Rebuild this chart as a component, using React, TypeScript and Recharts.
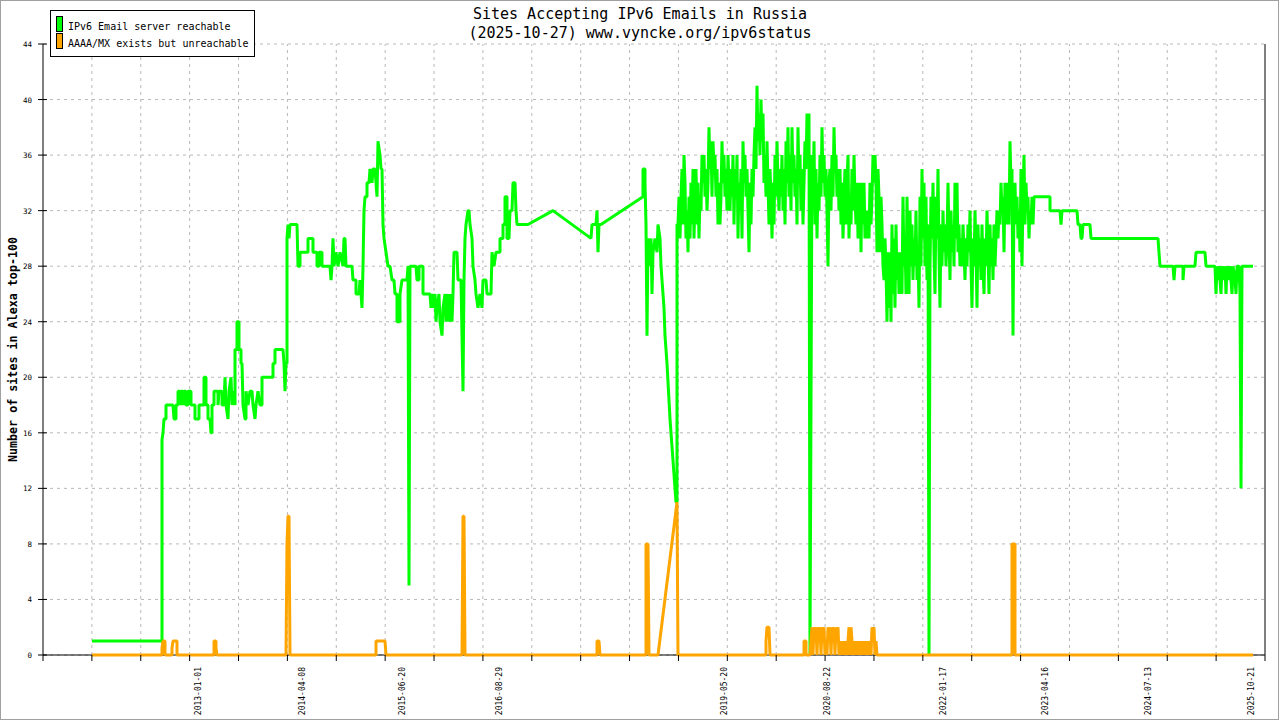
import React from "react";
import { LineChart, Line, XAxis, YAxis, CartesianGrid, ReferenceLine } from "recharts";

// sample index on x (0..1222), number of sites on y
const reachable: [number, number][] = [
  [49, 1], [119, 1], [119, 15.5], [120, 16], [121, 17], [123, 17], [123, 18], [130, 18], [131, 17], [133, 17],
  [133, 18], [135, 18], [135, 19], [137, 19], [137, 18], [138, 19], [140, 19], [140, 18], [141, 19], [143, 19],
  [143, 18], [145, 18], [145, 19], [148, 19], [148, 18], [152, 18], [152, 17], [156, 17], [156, 18], [161, 18],
  [161, 20], [163, 20], [163, 18], [165, 18], [165, 17], [167, 17], [168, 16], [169, 16], [169, 18], [171, 18],
  [171, 19], [175, 19], [175, 18], [176, 19], [179, 19], [179, 18], [181, 18], [182, 20], [183, 18], [185, 17],
  [186, 19], [188, 20], [189, 18], [190, 19], [192, 18], [192, 22], [194, 22], [194, 24], [196, 24], [196, 22],
  [198, 22], [198, 21], [199, 21], [200, 18], [202, 17], [203, 17], [203, 19], [205, 18], [207, 19], [209, 19],
  [210, 18], [212, 17], [213, 18], [215, 19], [217, 18], [219, 18], [219, 20], [230, 20], [230, 21], [232, 21],
  [232, 22], [240, 22], [241, 21], [242, 19], [243, 21], [244, 21], [244, 30], [245, 31], [246, 30], [247, 31],
  [254, 31], [255, 28], [257, 28], [257, 29], [265, 29], [265, 30], [270, 30], [270, 29], [274, 29], [274, 28],
  [276, 28], [276, 29], [279, 29], [279, 28], [287, 28], [288, 27], [289, 28], [290, 30], [291, 28], [293, 29],
  [295, 28], [297, 29], [300, 28], [301, 30], [302, 30], [303, 28], [309, 28], [310, 27], [313, 27], [313, 26],
  [316, 26], [317, 27], [319, 25], [320, 28], [321, 32], [322, 33], [324, 33], [324, 34], [326, 34], [327, 35],
  [329, 34], [330, 35], [332, 35], [333, 34], [334, 33], [335, 37], [337, 36], [338, 35], [339, 35], [340, 31],
  [341, 30], [343, 29], [345, 28], [347, 28], [349, 27], [351, 27], [352, 26], [354, 26], [354, 24], [357, 24],
  [357, 26], [359, 27], [364, 27], [365, 28], [366, 5], [367, 28], [373, 28], [374, 27], [376, 27], [376, 28],
  [380, 28], [380, 26], [387, 26], [388, 25], [389, 26], [391, 25], [392, 26], [393, 24], [394, 25], [396, 26],
  [397, 24], [399, 23], [400, 25], [402, 26], [403, 24], [404, 26], [406, 24], [407, 26], [409, 24], [410, 26],
  [411, 29], [414, 29], [415, 27], [418, 27], [420, 19], [421, 27], [422, 30], [423, 31], [425, 32], [426, 32],
  [427, 31], [429, 30], [430, 28], [432, 27], [433, 26], [435, 25], [437, 26], [439, 25], [440, 27], [443, 27],
  [444, 26], [448, 26], [449, 29], [451, 28], [453, 29], [457, 29], [457, 30], [460, 30], [460, 31], [462, 31],
  [462, 33], [464, 33], [464, 30], [466, 30], [467, 32], [469, 32], [470, 34], [472, 34], [473, 32], [474, 31],
  [485, 31], [510, 32], [548, 30], [549, 31], [553, 31], [554, 32], [555, 29], [556, 31], [558, 31], [600, 33],
  [600, 35], [602, 35], [602, 34], [603, 31], [604, 23], [605, 30], [607, 28], [608, 30], [609, 26], [610, 29],
  [612, 30], [614, 29], [615, 31], [617, 30], [618, 28], [619, 27], [621, 25], [622, 23], [624, 21], [627, 17],
  [630, 14], [633, 11], [634, 11], [634, 31],
  [635, 31], [636, 33], [637, 30], [638, 33], [639, 35], [640, 31], [641, 36], [642, 34], [643, 30], [644, 32],
  [645, 29], [646, 33], [647, 30], [648, 34], [649, 31], [650, 35], [651, 30], [652, 33], [653, 35], [654, 31],
  [655, 34], [656, 30], [657, 33], [658, 32], [659, 36], [660, 34], [661, 36], [662, 33], [663, 35], [664, 32],
  [665, 34], [666, 38], [667, 35], [668, 37], [669, 33], [670, 37], [671, 35], [672, 36], [673, 33], [674, 35],
  [675, 31], [676, 34], [677, 31], [678, 33], [679, 37], [680, 34], [681, 36], [682, 33], [683, 35], [684, 32],
  [685, 36], [686, 34], [687, 32], [688, 35], [689, 33], [690, 36], [691, 31], [692, 35], [693, 33], [694, 36],
  [695, 30], [696, 34], [697, 32], [698, 35], [699, 30], [700, 37], [701, 34], [702, 36], [703, 33], [704, 35],
  [705, 32], [706, 29], [707, 34], [708, 31], [709, 35], [710, 33], [711, 36], [712, 38], [713, 35], [714, 41],
  [715, 37], [716, 39], [717, 36], [718, 40], [719, 37], [720, 39], [721, 34], [722, 36], [723, 33], [724, 37],
  [725, 34], [726, 31], [727, 35], [728, 33], [729, 30], [730, 34], [731, 31], [732, 36], [733, 33], [734, 37],
  [735, 34], [736, 32], [737, 35], [738, 33], [739, 36], [740, 32], [741, 35], [742, 31], [743, 37], [744, 34],
  [745, 38], [746, 33], [747, 36], [748, 32], [749, 38], [750, 34], [751, 36], [752, 33], [753, 35], [754, 31],
  [755, 38], [756, 34], [757, 36], [758, 32], [759, 35], [760, 31], [761, 34], [762, 37], [763, 35], [764, 39],
  [765, 36], [766, 39], [767, 0], [768, 18], [769, 36], [770, 33], [771, 37], [772, 31], [773, 35], [774, 30],
  [775, 34], [776, 32], [777, 36], [778, 33], [779, 38], [780, 34], [781, 36], [782, 33], [783, 35], [784, 32],
  [785, 28], [786, 34], [787, 35], [788, 32], [789, 36], [790, 33], [791, 38], [792, 35], [793, 36], [794, 33],
  [795, 35], [796, 32], [797, 35], [798, 31], [799, 34], [800, 30], [801, 33], [802, 35], [803, 31], [804, 34],
  [805, 36], [806, 30], [807, 33], [808, 31], [809, 35], [810, 32], [811, 36], [812, 33], [813, 31], [814, 34],
  [815, 30], [816, 33], [817, 34],
  [818, 29], [819, 34], [820, 31], [821, 34], [822, 30], [823, 32], [824, 30], [825, 32], [826, 30], [827, 34],
  [828, 31], [829, 33], [830, 36], [831, 34], [832, 36], [833, 34], [834, 29], [835, 35], [836, 33], [837, 29],
  [838, 33], [839, 31], [840, 28], [841, 27], [842, 30], [843, 28], [844, 24], [845, 29], [846, 25], [847, 29],
  [848, 24], [849, 31], [850, 26], [851, 30], [852, 25], [853, 31], [854, 27], [855, 29], [856, 26], [857, 29],
  [858, 27], [859, 26], [860, 33], [861, 28], [862, 30], [863, 26], [864, 33], [865, 29], [866, 26], [867, 32],
  [868, 28], [869, 31], [870, 27], [871, 30], [872, 28], [873, 32], [874, 27], [875, 29], [876, 25], [877, 33],
  [878, 28], [879, 35], [880, 30], [881, 34], [882, 28], [883, 33], [884, 27], [885, 31], [886, 0], [887, 28],
  [888, 33], [889, 30], [890, 34], [891, 29], [892, 26], [893, 33], [894, 30], [895, 35], [896, 29], [897, 25],
  [898, 31], [899, 28], [900, 32], [901, 29], [902, 31], [903, 28], [904, 30], [905, 34], [906, 30], [907, 27],
  [908, 32], [909, 29], [910, 31], [911, 28], [912, 34], [913, 30], [914, 34], [915, 29], [916, 31], [917, 28],
  [918, 30], [919, 28], [920, 31], [921, 29], [922, 27], [923, 30], [924, 28], [925, 31], [926, 29], [927, 32],
  [928, 28], [929, 25], [930, 30], [931, 28], [932, 32], [933, 29], [934, 25], [935, 31], [936, 28], [937, 30],
  [938, 27], [939, 31], [940, 28], [941, 26], [942, 30], [943, 28], [944, 32], [945, 29], [946, 26], [947, 31],
  [948, 28], [949, 30], [950, 27], [951, 31], [952, 28], [953, 30], [954, 32], [955, 30], [956, 32], [957, 31],
  [958, 34], [959, 32], [960, 33], [961, 29], [962, 34], [963, 31], [964, 33], [965, 34], [966, 31], [967, 37],
  [968, 34], [969, 35], [970, 23], [971, 33], [972, 34], [973, 31], [974, 33], [975, 30], [976, 32], [977, 29],
  [978, 35], [979, 28], [980, 33], [981, 36], [982, 31], [983, 34], [984, 32], [985, 33], [986, 30], [987, 32],
  [988, 31], [989, 33], [990, 31], [991, 33], [992, 33],
  [1007, 33], [1007, 32], [1017, 32], [1018, 31], [1019, 32], [1034, 32], [1035, 31], [1037, 31], [1038, 30],
  [1039, 30], [1040, 31], [1047, 31], [1048, 30], [1115, 30], [1116, 29], [1117, 28], [1130, 28], [1131, 27],
  [1132, 28], [1140, 28], [1140, 27], [1141, 28], [1152, 28], [1153, 29], [1162, 29], [1163, 28], [1172, 28],
  [1173, 26], [1174, 28], [1175, 27], [1176, 28], [1178, 26], [1179, 28], [1180, 27], [1182, 28], [1183, 26],
  [1184, 28], [1186, 27], [1187, 28], [1189, 26], [1190, 28], [1192, 27], [1193, 26], [1194, 28], [1196, 28],
  [1197, 26], [1198, 12], [1199, 28], [1210, 28],
];

const unreachable: [number, number][] = [
  [49, 0], [119, 0], [119, 0.5], [120, 1], [122, 1], [122, 0], [129, 0], [129, 0.5], [130, 1], [134, 1],
  [134, 0], [171, 0], [171, 1], [173, 1], [173, 0.5], [174, 0], [243, 0], [244, 8], [245, 10], [246, 10],
  [247, 0], [333, 0], [333, 1], [342, 1], [343, 0], [419, 0], [420, 10], [421, 10], [422, 0], [554, 0],
  [554, 1], [556, 1], [557, 0], [603, 0], [603, 8], [605, 8], [606, 0], [615, 0], [634, 11], [635, 0],
  [723, 0], [723, 1], [724, 2], [726, 2], [727, 0], [761, 0], [761, 1], [763, 1], [763, 0], [767, 0],
  [768, 1], [769, 2], [770, 0], [771, 2], [772, 1], [773, 2], [774, 0], [775, 2], [776, 1], [777, 2],
  [778, 0], [779, 2], [780, 1], [781, 2], [782, 0], [783, 1], [784, 0], [785, 2], [786, 1], [787, 2],
  [788, 0], [789, 2], [790, 1], [791, 2], [792, 0], [793, 2], [794, 1], [795, 2], [796, 0], [797, 1],
  [798, 0], [799, 1], [800, 0], [801, 1], [802, 0], [803, 1], [804, 0], [805, 1], [806, 2], [807, 0],
  [808, 2], [809, 1], [810, 0], [811, 1], [812, 0], [813, 1], [814, 0], [815, 1], [816, 0], [817, 1],
  [818, 0], [819, 1], [820, 0], [821, 1], [822, 0], [823, 1], [824, 0], [825, 1], [826, 0], [827, 1],
  [828, 0], [829, 2], [830, 1], [831, 2], [832, 0], [833, 1], [834, 0], [835, 0], [969, 0], [969, 8],
  [972, 8], [972, 0], [1210, 0],
];

const dateLabels = [
  "2013-01-01", "2014-04-08", "2015-06-20", "2016-08-29", "2019-05-20",
  "2020-08-22", "2022-01-17", "2023-04-16", "2024-07-13", "2025-10-21",
];
const datePositions = [155.3, 259, 359, 456.3, 681, 784.3, 899.5, 1001.7, 1104.5, 1207.8];
const yTicks = [0, 4, 8, 12, 16, 20, 24, 28, 32, 36, 40, 44];

const X_MAX = 1222;
const gridTicks = Array.from({ length: 26 }, (_, i) => (i * X_MAX) / 25);
const allTicks = [...gridTicks, ...datePositions].sort((a, b) => a - b);

const FONT = "'DejaVu Sans Mono', monospace";
const GRID = "#b8b8b8";

const XTick = (props: any) => {
  const { x, y, payload } = props;
  const i = datePositions.indexOf(payload.value);
  if (i >= 0) {
    return (
      <text
        x={x}
        y={y}
        dy={3}
        transform={`rotate(-90 ${x} ${y})`}
        textAnchor="end"
        fontSize={8}
        fontFamily={FONT}
        fill="#000">
        {dateLabels[i]}
      </text>
    );
  }
  const axisY = y - 12;
  return <line x1={x} x2={x} y1={axisY} y2={axisY + 6} stroke="#000" />;
};

const YTick = (props: any) => {
  const { x, y, payload } = props;
  return (
    <g>
      <line x1={x + 6} x2={x + 15} y1={y} y2={y} stroke="#000" />
      <text x={x} y={y} dy={3} textAnchor="end" fontSize={7.5} fontFamily={FONT} fill="#000">
        {payload.value}
      </text>
    </g>
  );
};

export default function App() {
  const greenData = reachable.map(([x, y]) => ({ x, y }));
  const orangeData = unreachable.map(([x, y]) => ({ x, y }));

  return (
    <div style={{ position: "fixed", left: 0, top: 0, width: 1280, height: 720, background: "#fff" }}>
      <LineChart width={1280} height={720} margin={{ top: 44, right: 15, bottom: 0, left: 0 }}>
        <CartesianGrid vertical={false} stroke={GRID} strokeDasharray="3 4" />
        {gridTicks.slice(1, -1).map((t) => (
          <ReferenceLine key={t} x={t} stroke={GRID} strokeDasharray="3 4" />
        ))}
        <ReferenceLine x={X_MAX} stroke="#000" />
        <ReferenceLine y={0} stroke="#000" />
        <XAxis
          dataKey="x"
          type="number"
          domain={[0, X_MAX]}
          ticks={allTicks}
          interval={0}
          tick={<XTick />}
          tickLine={false}
          tickSize={6}
          tickMargin={6}
          height={65}
          axisLine={false}
        />
        <YAxis
          type="number"
          domain={[0, 44]}
          ticks={yTicks}
          interval={0}
          width={43}
          tick={<YTick />}
          tickLine={false}
          tickSize={5}
          tickMargin={6}
          axisLine={{ stroke: "#000" }}
          label={{
            value: "Number of sites in Alexa top-100",
            angle: -90,
            position: "center",
            dx: -8.5,
            fontSize: 11.7,
            fontWeight: "bold",
            fontFamily: FONT,
            fill: "#000",
          }}
        />
        <Line
          data={greenData}
          dataKey="y"
          type="linear"
          stroke="#00ff00"
          strokeWidth={3}
          strokeLinejoin="bevel"
          dot={false}
          isAnimationActive={false}
        />
        <Line
          data={orangeData}
          dataKey="y"
          type="linear"
          stroke="#ffa500"
          strokeWidth={3}
          strokeLinejoin="bevel"
          dot={false}
          isAnimationActive={false}
        />
      </LineChart>
      <svg
        width={1280}
        height={720}
        style={{ position: "absolute", left: 0, top: 0, pointerEvents: "none" }}
        fontFamily={FONT}>
        <rect x={0.5} y={0.5} width={1278} height={719} fill="none" stroke="#a0a0a0" />
        <text x={640} y={18.5} textAnchor="middle" fontSize={15} fill="#000">
          Sites Accepting IPv6 Emails in Russia
        </text>
        <text x={640} y={37.5} textAnchor="middle" fontSize={15} fill="#000">
          (2025-10-27) www.vyncke.org/ipv6status
        </text>
        <rect x={50.5} y={10.5} width={204} height={46} fill="#fff" stroke="#000" />
        <rect x={56.5} y={16.5} width={6} height={15} fill="#00ff00" stroke="#000" />
        <rect x={56.5} y={33.5} width={6} height={15} fill="#ffa500" stroke="#000" />
        <text x={68} y={29.6} fontSize={10} fill="#000">
          IPv6 Email server reachable
        </text>
        <text x={68} y={46.9} fontSize={10} fill="#000">
          AAAA/MX exists but unreachable
        </text>
      </svg>
    </div>
  );
}
